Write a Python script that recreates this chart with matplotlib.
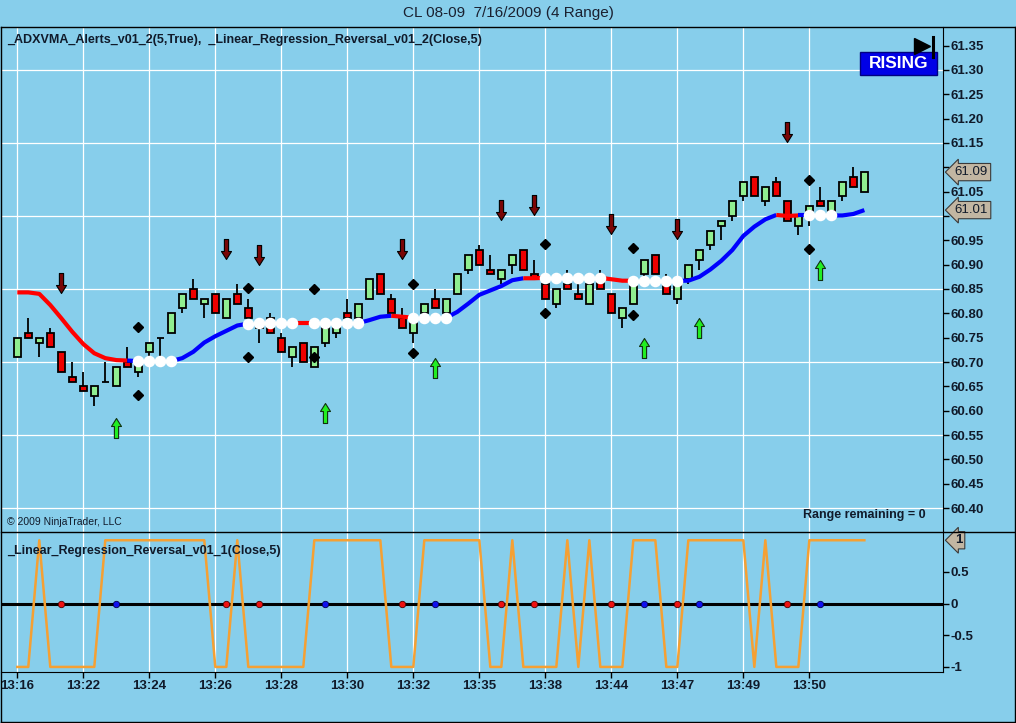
import matplotlib
matplotlib.use('Agg')
import matplotlib.pyplot as plt
import numpy as np
from matplotlib.path import Path
from matplotlib.lines import Line2D
from matplotlib.patches import Rectangle

plt.rcParams['font.family'] = ['Liberation Sans', 'DejaVu Sans']

# range bars (4 ticks)
opens = [60.71, 60.76, 60.74, 60.76, 60.72, 60.67, 60.65, 60.63, 60.66, 60.65,
         60.70, 60.68, 60.72, 60.75, 60.76, 60.81, 60.85, 60.82, 60.84, 60.79,
         60.84, 60.81, 60.78, 60.79, 60.75, 60.71, 60.74, 60.69, 60.74, 60.76,
         60.80, 60.79, 60.83, 60.88, 60.83, 60.79, 60.76, 60.80, 60.83, 60.80,
         60.84, 60.89, 60.93, 60.89, 60.87, 60.90, 60.93, 60.88, 60.86, 60.82,
         60.86, 60.84, 60.82, 60.87, 60.84, 60.79, 60.82, 60.88, 60.92, 60.86,
         60.83, 60.87, 60.91, 60.94, 60.98, 61.00, 61.04, 61.08, 61.03, 61.07,
         61.03, 60.98, 61.01, 61.03, 61.01, 61.04, 61.08, 61.05]
highs = [60.75, 60.79, 60.75, 60.77, 60.72, 60.70, 60.68, 60.65, 60.70, 60.69,
         60.73, 60.71, 60.74, 60.75, 60.80, 60.84, 60.87, 60.83, 60.84, 60.83,
         60.86, 60.83, 60.78, 60.80, 60.76, 60.73, 60.74, 60.73, 60.77, 60.79,
         60.83, 60.82, 60.87, 60.88, 60.84, 60.81, 60.78, 60.82, 60.85, 60.83,
         60.88, 60.92, 60.94, 60.92, 60.89, 60.92, 60.93, 60.91, 60.87, 60.85,
         60.89, 60.86, 60.86, 60.89, 60.84, 60.81, 60.86, 60.91, 60.92, 60.88,
         60.86, 60.90, 60.93, 60.97, 60.99, 61.03, 61.07, 61.08, 61.06, 61.08,
         61.03, 61.00, 61.02, 61.06, 61.03, 61.07, 61.10, 61.09]
lows = [60.71, 60.75, 60.71, 60.73, 60.68, 60.66, 60.64, 60.61, 60.66, 60.65,
        60.69, 60.67, 60.71, 60.71, 60.76, 60.80, 60.83, 60.79, 60.80, 60.79,
        60.82, 60.79, 60.74, 60.76, 60.72, 60.69, 60.70, 60.69, 60.73, 60.75,
        60.79, 60.78, 60.83, 60.84, 60.80, 60.77, 60.74, 60.78, 60.81, 60.79,
        60.84, 60.88, 60.90, 60.88, 60.86, 60.88, 60.89, 60.87, 60.83, 60.81,
        60.85, 60.83, 60.82, 60.85, 60.80, 60.77, 60.82, 60.87, 60.88, 60.84,
        60.82, 60.86, 60.89, 60.93, 60.95, 60.99, 61.03, 61.04, 61.02, 61.04,
        60.99, 60.96, 60.98, 61.02, 61.00, 61.03, 61.06, 61.05]
closes = [60.75, 60.75, 60.75, 60.73, 60.68, 60.66, 60.64, 60.65, 60.66, 60.69,
          60.69, 60.70, 60.74, 60.75, 60.80, 60.84, 60.83, 60.83, 60.80, 60.83,
          60.82, 60.79, 60.77, 60.76, 60.72, 60.73, 60.70, 60.73, 60.77, 60.78,
          60.79, 60.82, 60.87, 60.84, 60.80, 60.77, 60.78, 60.82, 60.81, 60.83,
          60.88, 60.92, 60.90, 60.88, 60.89, 60.92, 60.89, 60.87, 60.83, 60.85,
          60.85, 60.83, 60.86, 60.85, 60.80, 60.81, 60.86, 60.91, 60.88, 60.84,
          60.86, 60.90, 60.93, 60.97, 60.99, 61.03, 61.07, 61.04, 61.06, 61.04,
          60.99, 61.00, 61.02, 61.02, 61.03, 61.07, 61.06, 61.09]

# ADXVMA line and its state per segment (R rising, F falling, N neutral)
adx = [60.843, 60.843, 60.840, 60.817, 60.790, 60.762, 60.737, 60.718, 60.708, 60.704,
       60.703, 60.702, 60.702, 60.702, 60.702, 60.708, 60.721, 60.740, 60.753, 60.764,
       60.775, 60.779, 60.780, 60.780, 60.780, 60.780, 60.780, 60.780, 60.780, 60.780,
       60.780, 60.780, 60.786, 60.793, 60.795, 60.793, 60.791, 60.791, 60.791, 60.791,
       60.803, 60.820, 60.838, 60.847, 60.856, 60.868, 60.872, 60.872, 60.873, 60.873,
       60.873, 60.873, 60.873, 60.873, 60.870, 60.867, 60.867, 60.867, 60.867, 60.867,
       60.867, 60.867, 60.875, 60.890, 60.908, 60.930, 60.959, 60.978, 60.993, 61.002,
       61.000, 61.001, 61.001, 61.001, 61.001, 61.001, 61.004, 61.012]
adx_seg = ('-' + 'F' * 10 + 'R' + 'NNN' + 'R' * 7 + 'NNNN' + 'FF' + 'NNNN' + 'RRR'
           + 'FF' + 'NNN' + 'R' * 7 + 'FF' + 'NNNNN' + 'FFF' + 'NNNN' + 'R' * 9
           + 'FF' + 'R' + 'NN' + 'RRR')
neutral_bars = [11, 12, 13, 14, 21, 22, 23, 24, 25, 27, 28, 29, 30, 31, 36, 37, 38, 39,
                48, 49, 50, 51, 52, 53, 56, 57, 58, 59, 60, 72, 73, 74]

# alerts
down_bars = [4, 19, 22, 35, 44, 47, 54, 60, 70]
down_tips = [60.842, 60.911, 60.900, 60.912, 60.992, 61.002, 60.963, 60.952, 61.152]
up_bars = [9, 28, 38, 57, 62, 73]
up_tips = [60.585, 60.616, 60.708, 60.749, 60.790, 60.910]
diamond_bars = [11, 21, 27, 36, 48, 56, 72]
diamond_hi = [60.771, 60.851, 60.849, 60.860, 60.942, 60.935, 61.074]
diamond_lo = [60.632, 60.710, 60.711, 60.718, 60.800, 60.797, 60.932]

# lower panel oscillator
osc = [-1, -1, 1, -1, -1, -1, -1, -1, 1, 1, 1, 1, 1, 1, 1, 1, 1, 1, -1, -1,
       1, -1, -1, -1, -1, -1, -1, 1, 1, 1, 1, 1, 1, 1, -1, -1, -1, 1, 1, 1,
       1, 1, 1, -1, -1, 1, -1, -1, -1, -1, 1, -1, 1, -1, -1, -1, 1, 1, 1, -1,
       -1, 1, 1, 1, 1, 1, 1, -1, 1, -1, -1, -1, 1, 1, 1, 1, 1, 1]

time_ticks = [0, 6, 12, 18, 24, 30, 36, 42, 48, 54, 60, 66, 72]
time_labels = ['13:16', '13:22', '13:24', '13:26', '13:28', '13:30', '13:32',
               '13:35', '13:38', '13:44', '13:47', '13:49', '13:50']
price_ticks = [round(60.40 + 0.05 * k, 2) for k in range(20)]
hidden_price_labels = [61.00, 61.10]   # covered by the price markers
osc_ticks = [-1, -0.5, 0, 0.5]
osc_labels = ['-1', '-0.5', '0', '0.5']

bg = '#87ceeb'
txt = '#101a2a'
W, H = 1016, 723

fig = plt.figure(figsize=(W / 100, H / 100), dpi=100, facecolor=bg)


def fbox(x0, y0, x1, y1):
    return [x0 / W, 1 - y1 / H, (x1 - x0) / W, (y1 - y0) / H]


def fline(x0, y0, x1, y1, lw=1.0):
    fig.add_artist(Line2D([x0 / W, x1 / W], [1 - y0 / H, 1 - y1 / H],
                          transform=fig.transFigure, color='black', lw=lw))


ax1 = fig.add_axes(fbox(1, 27, 943, 531))
ax2 = fig.add_axes(fbox(1, 531, 943, 672), sharex=ax1)

for ax in (ax1, ax2):
    ax.set_facecolor(bg)
    ax.set_axisbelow(True)
    for s in ('top', 'left', 'bottom'):
        ax.spines[s].set_visible(False)
    ax.spines['right'].set_color('black')
    ax.yaxis.tick_right()
    ax.tick_params(axis='y', direction='out', length=4, width=1, pad=1.5,
                   labelsize=9.5, labelcolor=txt)
    ax.grid(axis='x', color='white', lw=0.9)
ax2.spines['bottom'].set_visible(True)

x = np.arange(len(opens))
ax1.set_xlim(-1.48, 84.15)
ax1.set_ylim(60.353, 61.388)
ax2.set_ylim(-1.08, 1.146)

# main panel grid
for lvl in np.arange(60.40, 61.31, 0.15):
    ax1.axhline(lvl, color='white', lw=0.9, zorder=0.5)

# candles
o = np.array(opens)
c = np.array(closes)
body_col = np.where(c >= o, '#90ee90', '#ee0000')
ax1.vlines(x, lows, highs, color='black', lw=1.3, zorder=2)
ax1.bar(x, c - o, bottom=o, width=0.6, color=body_col, edgecolor='black',
        linewidth=1.3, zorder=3)

# ADXVMA colored runs
seg_colors = {'R': '#0000ff', 'F': '#ff0000'}
i = 1
while i < len(adx):
    st = adx_seg[i]
    j = i
    while j + 1 < len(adx) and adx_seg[j + 1] == st:
        j += 1
    if st in seg_colors:
        ax1.plot(x[i - 1:j + 1], adx[i - 1:j + 1], color=seg_colors[st], lw=3,
                 solid_capstyle='butt', solid_joinstyle='round', zorder=4)
    i = j + 1
ax1.plot(neutral_bars, [adx[b] for b in neutral_bars], 'o', ms=7.3, mfc='white',
         mec='white', zorder=5)

# arrows and diamonds
down_path = Path([(0, 0), (5, 8), (2.1, 8), (2.1, 20), (-2.1, 20), (-2.1, 8),
                  (-5, 8), (0, 0)], closed=True)
up_path = Path([(0, 0), (5, -8), (2.1, -8), (2.1, -20), (-2.1, -20), (-2.1, -8),
                (-5, -8), (0, 0)], closed=True)
ax1.plot(down_bars, down_tips, ls='none', marker=down_path, ms=28.8,
         mfc='#7a0606', mec='black', mew=0.8, zorder=6)
ax1.plot(up_bars, up_tips, ls='none', marker=up_path, ms=28.8,
         mfc='#22ee22', mec='#103010', mew=0.8, zorder=6)
ax1.plot(diamond_bars, diamond_hi, 'D', ms=5.3, color='black', zorder=6)
ax1.plot(diamond_bars, diamond_lo, 'D', ms=5.3, color='black', zorder=6)

ax1.set_yticks(price_ticks)
ax1.set_yticklabels(['' if p in hidden_price_labels else f'{p:.2f}'
                     for p in price_ticks])
ax1.tick_params(axis='x', length=0, labelbottom=False)

# price markers
mark_style = dict(boxstyle='larrow,pad=0.2', fc='#c2b6a2', ec='#3a3a3a', lw=0.8)
ytr1 = ax1.get_yaxis_transform()
for val in (closes[-1], adx[-1]):
    ax1.text(1.0125, val, f'{val:.2f}', transform=ytr1, ha='left', va='center',
             fontsize=9.5, color=txt, bbox=mark_style, clip_on=False, zorder=10)

# lower panel
ax2.axhline(0, color='black', lw=2.2, zorder=2)
ax2.plot(x, osc, color='#f5a033', lw=1.8, zorder=3)
ax2.plot(down_bars, [0] * len(down_bars), 'o', ms=4.6, mfc='#ee1111',
         mec='#500000', mew=0.6, zorder=4)
ax2.plot(up_bars, [0] * len(up_bars), 'o', ms=4.6, mfc='#1111ee',
         mec='#000050', mew=0.6, zorder=4)
ax2.set_yticks(osc_ticks)
ax2.set_yticklabels(osc_labels)
ax2.set_xticks(time_ticks)
ax2.set_xticklabels(time_labels)
ax2.tick_params(axis='x', direction='out', length=4, width=1, pad=2,
                labelsize=9.5, labelcolor=txt)
ax2.text(1.0125, osc[-1], '1', transform=ax2.get_yaxis_transform(), ha='left',
         va='center', fontsize=9.5, fontweight='bold', color=txt,
         bbox=mark_style, clip_on=False, zorder=10)

for lbl in ax1.get_yticklabels() + ax2.get_yticklabels() + ax2.get_xticklabels():
    lbl.set_fontweight('bold')

# frame
fline(0.5, 27, 1014.5, 27)
fline(0.5, 531.5, 1014.5, 531.5)
fline(0.5, 27, 0.5, 721.5)
fline(1014.5, 27, 1014.5, 721.5)
fline(0.5, 721.5, 1014.5, 721.5)

# texts
fig.text(508 / W, 1 - 13 / H, 'CL 08-09  7/16/2009 (4 Range)', ha='center',
         va='center', fontsize=11, color='#1a2030')
fig.text(7 / W, 1 - 40 / H,
         '_ADXVMA_Alerts_v01_2(5,True),  _Linear_Regression_Reversal_v01_2(Close,5)',
         ha='left', va='center', fontsize=9, fontweight='bold', color=txt)
fig.text(7 / W, 1 - 551 / H, '_Linear_Regression_Reversal_v01_1(Close,5)',
         ha='left', va='center', fontsize=9, fontweight='bold', color=txt, zorder=1)
fig.text(7 / W, 1 - 522 / H, '\u00a9 2009 NinjaTrader, LLC', ha='left',
         va='center', fontsize=7.5, color=txt)
fig.text(926 / W, 1 - 515 / H, 'Range remaining = 0', ha='right', va='center',
         fontsize=9, fontweight='bold', color=txt)

# RISING badge and play/end icon
fig.add_artist(Rectangle((860 / W, 1 - 75 / H), 77 / W, 23 / H,
                         transform=fig.transFigure, fc='#0000e6', ec='#000080', lw=1))
fig.text(898.5 / W, 1 - 63.5 / H, 'RISING', ha='center', va='center',
         fontsize=12.5, fontweight='bold', color='white')
fig.add_artist(Line2D([922 / W], [1 - 46 / H], marker='>', ms=11, color='black',
                      transform=fig.transFigure))
fline(933, 37, 933, 57, lw=2.2)

fig.savefig('out.png', dpi=100, facecolor=bg)
